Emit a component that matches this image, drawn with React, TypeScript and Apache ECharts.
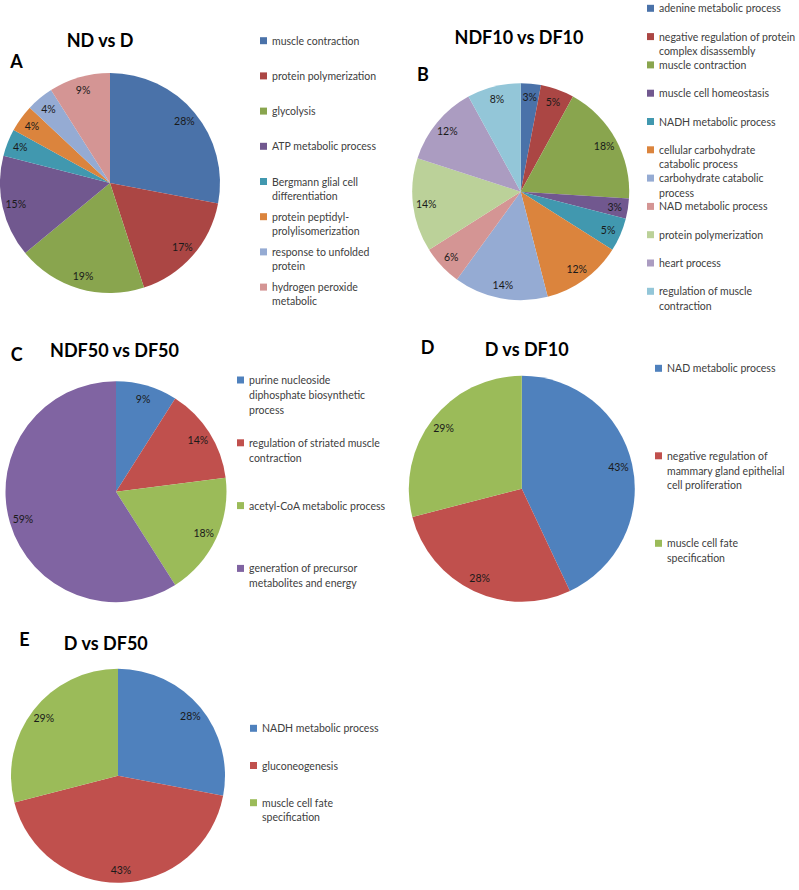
import React, { useEffect, useRef } from "react";
import * as echarts from "echarts";

// ---------- data ----------
const categoriesA = [
  "muscle contraction",
  "protein polymerization",
  "glycolysis",
  "ATP metabolic process",
  "Bergmann glial cell\ndifferentiation",
  "protein peptidyl-\nprolylisomerization",
  "response to unfolded\nprotein",
  "hydrogen peroxide\nmetabolic",
];
const valuesA = [28, 17, 19, 15, 4, 4, 4, 9];

const categoriesB = [
  "adenine metabolic process",
  "negative regulation of protein\ncomplex disassembly",
  "muscle contraction",
  "muscle cell homeostasis",
  "NADH metabolic process",
  "cellular carbohydrate\ncatabolic process",
  "carbohydrate catabolic\nprocess",
  "NAD metabolic process",
  "protein polymerization",
  "heart process",
  "regulation of muscle\ncontraction",
];
const valuesB = [3, 5, 18, 3, 5, 12, 14, 6, 14, 12, 8];

const categoriesC = [
  "purine nucleoside\ndiphosphate biosynthetic\nprocess",
  "regulation of striated muscle\ncontraction",
  "acetyl-CoA metabolic process",
  "generation of precursor\nmetabolites and energy",
];
const valuesC = [9, 14, 18, 59];

const categoriesD = [
  "NAD metabolic process",
  "negative regulation of\nmammary gland epithelial\ncell proliferation",
  "muscle cell fate\nspecification",
];
const valuesD = [43, 28, 29];

const categoriesE = [
  "NADH metabolic process",
  "gluconeogenesis",
  "muscle cell fate\nspecification",
];
const valuesE = [28, 43, 29];

const panelTitles = ["ND vs D", "NDF10 vs DF10", "NDF50 vs DF50", "D vs DF10", "D vs DF50"];
const panelLetters = ["A", "B", "C", "D", "E"];

// ---------- styles ----------
const paletteDark = [
  "#4A72A9", "#AB4644", "#89A54E", "#71588F", "#4198AF", "#DB843D",
  "#95ABD3", "#D49594", "#BBD199", "#AB9CC1", "#93C6D8",
];
const paletteBright = ["#4F81BD", "#C0504D", "#9BBB59", "#8064A2"];

const FONT = 'Lato, "Noto Sans", sans-serif';

type Panel = {
  key: string;
  cats: string[];
  vals: number[];
  colors: string[];
  center: [number, number];
  r: number;
  legendLeft: number;
  legendFirstY: number;
  legendSpacing: number;
  legendLines: number;
  lh: number;
  titleXY: [number, number];
  letterXY: [number, number];
};

const panels: Panel[] = [
  { key: "A", cats: categoriesA, vals: valuesA, colors: paletteDark, center: [110, 183], r: 110,
    legendLeft: 260, legendFirstY: 40.7, legendSpacing: 35.2, legendLines: 2, lh: 14.3,
    titleXY: [100, 40], letterXY: [16.5, 61] },
  { key: "B", cats: categoriesB, vals: valuesB, colors: paletteDark, center: [520.7, 191.7], r: 108.5,
    legendLeft: 647, legendFirstY: 8.3, legendSpacing: 28.3, legendLines: 2, lh: 14.5,
    titleXY: [519, 36.7], letterXY: [423, 74] },
  { key: "C", cats: categoriesC, vals: valuesC, colors: paletteBright, center: [116, 491.7], r: 110.5,
    legendLeft: 237, legendFirstY: 380, legendSpacing: 62.8, legendLines: 3, lh: 15,
    titleXY: [114.5, 349.7], letterXY: [16.7, 353.5] },
  { key: "D", cats: categoriesD, vals: valuesD, colors: paletteBright, center: [521.8, 488.8], r: 113,
    legendLeft: 655, legendFirstY: 368.3, legendSpacing: 87.5, legendLines: 3, lh: 14.8,
    titleXY: [526.7, 348.8], letterXY: [427.5, 347] },
  { key: "E", cats: categoriesE, vals: valuesE, colors: paletteBright, center: [118, 775.8], r: 107,
    legendLeft: 250, legendFirstY: 728.3, legendSpacing: 37.2, legendLines: 2, lh: 14,
    titleXY: [105.8, 642.5], letterXY: [24.5, 639] },
];

const LEGEND_FS = 10.5;

function buildOption() {
  const series: any[] = [];
  const legends: any[] = [];
  const graphics: any[] = [];

  panels.forEach((p, pi) => {
    const names = p.cats.map((c) => p.key + "|" + c);
    series.push({
      type: "pie",
      name: p.key,
      center: p.center,
      radius: [0, p.r],
      startAngle: 90,
      clockwise: true,
      silent: true,
      avoidLabelOverlap: false,
      label: { show: false },
      labelLine: { show: false },
      itemStyle: { borderWidth: 0 },
      emphasis: { disabled: true },
      data: p.vals.map((v, i) => ({ name: names[i], value: v, itemStyle: { color: p.colors[i] } })),
    });
    series.push({
      type: "pie",
      name: p.key + "-labels",
      center: p.center,
      radius: [p.r * 0.7, p.r],
      startAngle: 90,
      clockwise: true,
      silent: true,
      avoidLabelOverlap: false,
      itemStyle: { color: "rgba(0,0,0,0)", borderWidth: 0 },
      emphasis: { disabled: true },
      label: {
        show: true,
        position: "inside",
        formatter: (q: any) => q.value + "%",
        color: "#1a1a1a",
        fontSize: 10.5,
        fontFamily: FONT,
      },
      labelLine: { show: false },
      data: p.vals.map((v, i) => ({ name: names[i], value: v })),
    });

    const n = p.legendLines;
    const H = (2 * n - 1) * p.lh;
    legends.push({
      orient: "vertical",
      left: p.legendLeft,
      top: p.legendFirstY - H / 2,
      padding: 0,
      itemWidth: 7,
      itemHeight: 7,
      itemGap: p.legendSpacing - H,
      icon: "rect",
      selectedMode: false,
      itemStyle: { borderWidth: 0 },
      data: names,
      formatter: (name: string) => {
        const parts = name.slice(name.indexOf("|") + 1).split("\n");
        while (parts.length < n) parts.push(" ");
        const pre: string[] = [];
        for (let k = 0; k < n - 1; k++) pre.push(" ");
        return pre.concat(parts).join("\n");
      },
      textStyle: { fontFamily: FONT, fontSize: LEGEND_FS, color: "#404040", lineHeight: p.lh },
    });

    graphics.push({
      type: "text",
      x: p.titleXY[0],
      y: p.titleXY[1],
      silent: true,
      style: {
        text: panelTitles[pi],
        font: "bold 18px " + FONT,
        fill: "#000",
        align: "center",
        verticalAlign: "middle",
        textAlign: "center",
        textVerticalAlign: "middle",
      },
    });
    graphics.push({
      type: "text",
      x: p.letterXY[0],
      y: p.letterXY[1],
      silent: true,
      style: {
        text: panelLetters[pi],
        font: "bold 18px " + FONT,
        fill: "#000",
        align: "center",
        verticalAlign: "middle",
        textAlign: "center",
        textVerticalAlign: "middle",
      },
    });
  });

  return {
    animation: false,
    backgroundColor: "#ffffff",
    legend: legends,
    series,
    graphic: graphics,
  };
}

export default function App() {
  const ref = useRef<HTMLDivElement>(null);
  useEffect(() => {
    if (!ref.current) return;
    const chart = echarts.init(ref.current, undefined, { renderer: "svg" });
    chart.setOption(buildOption() as any);
    return () => chart.dispose();
  }, []);
  return (
    <div
      ref={ref}
      style={{ position: "absolute", left: 0, top: 0, width: 799, height: 890, background: "#fff" }}
    />
  );
}
